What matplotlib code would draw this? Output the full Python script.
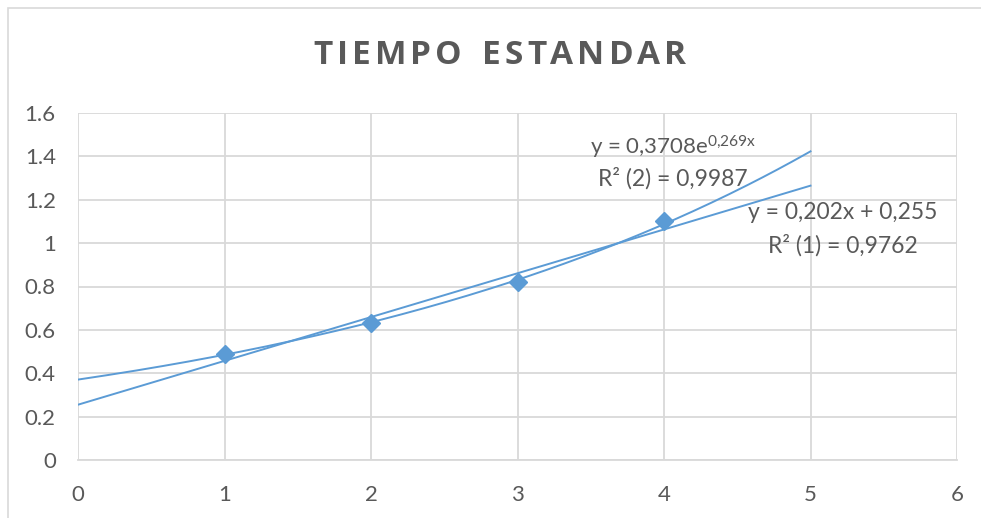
import numpy as np
import matplotlib
matplotlib.use("Agg")
import matplotlib.pyplot as plt
from matplotlib.patches import Rectangle

# Observed standard times
x_obs = [1, 2, 3, 4]
y_obs = [0.49, 0.63, 0.82, 1.10]

# Trendline coefficients
lin_slope, lin_icpt = 0.202, 0.255
exp_a, exp_b = 0.3708, 0.269
trend_range = [0, 5]

x_ticks = [0, 1, 2, 3, 4, 5, 6]
y_ticks = [0, 0.2, 0.4, 0.6, 0.8, 1.0, 1.2, 1.4, 1.6]
y_tick_labels = ["0", "0.2", "0.4", "0.6", "0.8", "1", "1.2", "1.4", "1.6"]

title = "TIEMPO ESTANDAR"
exp_label = r"y = 0,3708e$^{0{,}269x}$"
exp_r2 = "R² (2) = 0,9987"
lin_label = "y = 0,202x + 0,255"
lin_r2 = "R² (1) = 0,9762"

plt.rcParams["font.family"] = ["Lato", "DejaVu Sans"]
plt.rcParams["mathtext.default"] = "regular"

blue = "#5b9bd5"
grid_c = "#d9d9d9"
text_c = "#595959"

W, H = 981, 518
fig = plt.figure(figsize=(W / 100, H / 100), dpi=100)
ax = fig.add_axes([78 / W, 1 - 460 / H, (957 - 78) / W, (460 - 113) / H])

# chart frame
fig.patches.append(Rectangle((8 / W, -0.1), 1.2, 1 - 8 / H + 0.1,
                             transform=fig.transFigure, fill=False,
                             edgecolor=grid_c, linewidth=1.2))

xs = np.linspace(trend_range[0], trend_range[1], 200)
ax.plot(xs, exp_a * np.exp(exp_b * xs), color=blue, linewidth=1.4, zorder=3)
ax.plot(trend_range, [lin_slope * v + lin_icpt for v in trend_range],
        color=blue, linewidth=1.4, zorder=3)
ax.plot(x_obs, y_obs, linestyle="none", marker="D", markersize=9,
        color=blue, zorder=4)

ax.set_xlim(0, 6)
ax.set_ylim(0, 1.6)
ax.set_xticks(x_ticks)
ax.set_yticks(y_ticks)
ax.set_yticklabels(y_tick_labels)
ax.grid(True, color=grid_c, linewidth=1.3)
ax.set_axisbelow(True)
for s in ["top", "right", "left"]:
    ax.spines[s].set_visible(False)
ax.spines["bottom"].set_color(grid_c)
ax.spines["bottom"].set_linewidth(1.3)
ax.tick_params(length=0, labelsize=16, colors=text_c)
ax.tick_params(axis="x", pad=18)
ax.tick_params(axis="y", pad=16)

ax.text(4.06, 1.44, exp_label, ha="center", va="center", fontsize=16, color=text_c)
ax.text(4.06, 1.30, exp_r2, ha="center", va="center", fontsize=16.5, color=text_c)
ax.text(5.22, 1.14, lin_label, ha="center", va="center", fontsize=16.5, color=text_c)
ax.text(5.22, 0.99, lin_r2, ha="center", va="center", fontsize=16.5, color=text_c)

# letter-spaced title, laid out glyph by glyph
renderer = fig.canvas.get_renderer()
title_kw = dict(fontsize=24, fontweight="bold", color=text_c,
                family=["Open Sans", "DejaVu Sans"], va="center", ha="left")
tracking = 4.0  # px between glyphs
glyphs = []
for ch in title:
    t = fig.text(0, 1 - 55 / H, ch if ch != " " else "\u00a0", **title_kw)
    w = t.get_window_extent(renderer).width
    if ch == " ":
        w = 12.0
    glyphs.append((t, w))
total = sum(w for _, w in glyphs) + tracking * (len(glyphs) - 1)
cx = 500 - total / 2
for t, w in glyphs:
    t.set_x(cx / W)
    cx += w + tracking

fig.savefig("out.png", dpi=100)
